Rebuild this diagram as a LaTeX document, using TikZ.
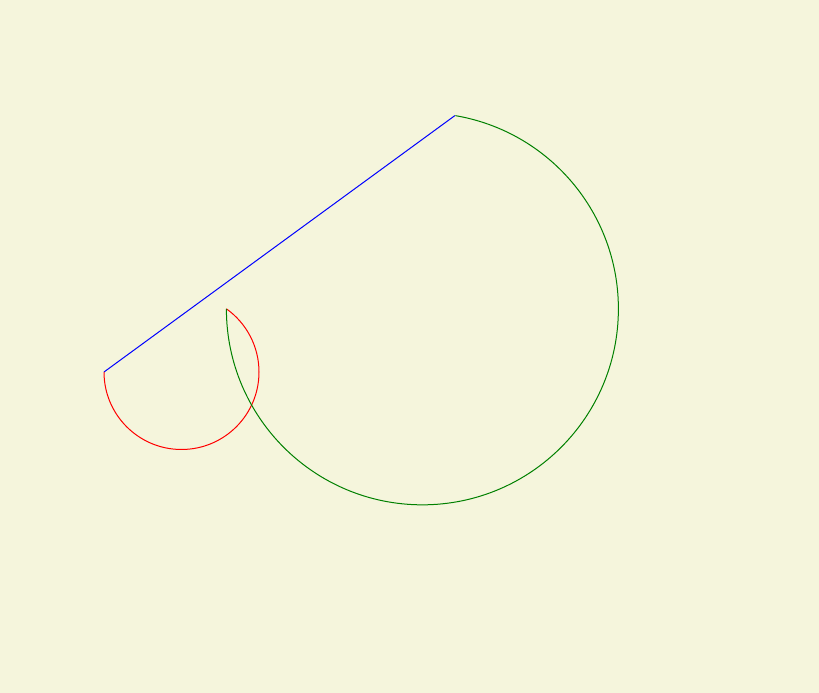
\documentclass[tikz,border=0pt]{standalone}
\usepackage{xcolor}
\usepackage{tikz}
\usetikzlibrary{backgrounds}
\definecolor{beige}{HTML}{F5F5DC}
\definecolor{leaf}{HTML}{008000}
\tikzset{
  trail/.style={line width=1pt, color=#1},
  trail/.default=blue,
}
\begin{document}
\begin{tikzpicture}[x=1pt, y=1pt]
  \fill[beige] (0,0) rectangle (819,693);
  \useasboundingbox (0,0) rectangle (819,693);
  \coordinate (start) at (104,321);
  \coordinate (top) at (454.9,577.4);
  \draw[trail=blue] (start) -- (top);
  \draw[trail=red] (start) arc[start angle=180, end angle=414.6, radius=77.5] coordinate (turn);
  \draw[trail=leaf] (turn) arc[start angle=180, end angle=440.3, radius=196];
\end{tikzpicture}
\end{document}
